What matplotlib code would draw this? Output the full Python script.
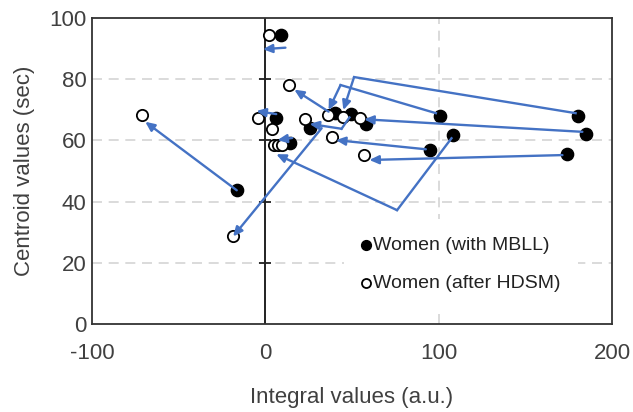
import matplotlib
matplotlib.use("Agg")
import matplotlib.pyplot as plt

# Women with elevated blood lead (MBLL)
mbll_x = [9, 6, 14, 26, 40, 49.5, 58, 101, 95, 108.5, 180.5, 185, 174, -16.5]
mbll_y = [94.4, 67.2, 59.1, 64, 68.8, 68.6, 65.4, 68.1, 56.8, 61.7, 68.1, 62.2, 55.7, 43.7]

# Same women after HDSM
hdsm_x = [2, 13.7, -4.2, 4, 5.2, 7.5, 9.8, 22.8, 36, 45, 54.7, 38.4, 57, -71.4, -18.8]
hdsm_y = [94.4, 78.2, 67.4, 63.7, 58.5, 58.5, 58.5, 66.9, 68.4, 67.5, 67.2, 61.1, 55.3, 68.2, 28.7]

# Hand-drawn change arrows (start -> optional bends -> arrow tip), in data units
arrow_paths = [
    [(11.6, 90.3), (-1.4, 89.8)],
    [(6.3, 68.6), (-5.2, 69.6)],
    [(15.5, 60.8), (7.0, 60.1)],
    [(-16.5, 43.7), (-69.3, 66.1)],
    [(32.5, 64.0), (-18.6, 28.6)],
    [(107.4, 60.7), (76.0, 37.2), (6.3, 55.5)],
    [(179.0, 68.9), (51.2, 80.7), (45.0, 69.9)],
    [(98.4, 68.9), (43.4, 78.1), (36.5, 69.9)],
    [(182.9, 62.8), (57.0, 66.9)],
    [(92.6, 57.1), (40.7, 60.1)],
    [(171.4, 55.2), (60.0, 53.6)],
    [(36.5, 69.4), (16.7, 76.6)],
    [(48.5, 67.5), (44.0, 63.8), (25.5, 65.4)],
]

x_ticks = [-100, 0, 100, 200]
y_ticks = [0, 20, 40, 60, 80, 100]
x_label = "Integral values (a.u.)"
y_label = "Centroid values (sec)"
labels = ["Women (with MBLL)", "Women (after HDSM)"]

plt.rcParams["font.family"] = ["Liberation Sans", "DejaVu Sans"]
plt.rcParams["axes.unicode_minus"] = False
text_color = "#404040"
blue = "#4472C4"

fig = plt.figure(figsize=(6.33, 4.12), dpi=100)
ax = fig.add_axes([92 / 633, 1 - 324 / 412, 520 / 633, 306 / 412])
ax.set_xlim(x_ticks[0], x_ticks[-1])
ax.set_ylim(y_ticks[0], y_ticks[-1])
ax.set_xticks(x_ticks)
ax.set_yticks(y_ticks)
ax.tick_params(length=0, labelsize=16, labelcolor=text_color)
ax.tick_params(axis="x", pad=14)
ax.tick_params(axis="y", pad=4)
for s in ax.spines.values():
    s.set_color("#333333")
    s.set_linewidth(1.3)

# dashed gridlines
for v in y_ticks[1:-1]:
    ax.axhline(v, color="#d4d4d4", lw=1.2, ls=(0, (6, 4)), zorder=0)
for v in x_ticks[1:-1]:
    ax.axvline(v, color="#d4d4d4", lw=1.2, ls=(0, (6, 4)), zorder=0)

# vertical axis crossing at x = 0 with cross tick marks
ax.axvline(0, color="#222222", lw=1.4, zorder=1)
ax.plot([0] * (len(y_ticks) - 2), y_ticks[1:-1], ls="none", marker="_",
        ms=9, mew=1.3, color="#222222", zorder=1)

ax.scatter(mbll_x, mbll_y, s=78, color="black", edgecolor="black",
           linewidth=1, zorder=3, label=labels[0])
ax.scatter(hdsm_x, hdsm_y, s=66, facecolor="white", edgecolor="black",
           linewidth=1.3, zorder=3, label=labels[1])

for path in arrow_paths:
    xs = [p[0] for p in path]
    ys = [p[1] for p in path]
    ax.plot(xs[:-1], ys[:-1], color=blue, lw=1.7, zorder=4,
            solid_joinstyle="miter")
    ax.annotate("", xy=path[-1], xytext=path[-2],
                arrowprops=dict(arrowstyle="-|>,head_length=0.55,head_width=0.25",
                                color=blue, lw=1.7, shrinkA=0, shrinkB=0),
                zorder=4)

leg = ax.legend(loc="upper left", bbox_to_anchor=(0.465, 0.375), frameon=True,
                facecolor="white", edgecolor="none", framealpha=1,
                fontsize=14, handlelength=0.5, handletextpad=0.1,
                labelspacing=1.05, borderpad=0.9, markerscale=0.8)
for t in leg.get_texts():
    t.set_color("#222222")
leg.set_zorder(2)

ax.set_xlabel(x_label, fontsize=16, color=text_color, labelpad=16)
ax.set_ylabel(y_label, fontsize=16, color=text_color, labelpad=10)

fig.savefig("out.png", dpi=100)
